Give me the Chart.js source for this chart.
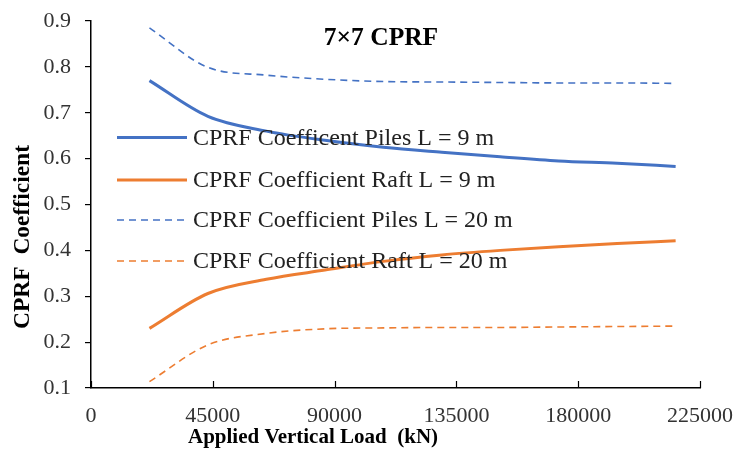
<!DOCTYPE html>
<html>
<head>
<meta charset="utf-8">
<script src="https://cdn.jsdelivr.net/npm/chart.js@4"></script>
<style>
  html, body { margin: 0; padding: 0; background: #fff; }
  #wrap { width: 740px; height: 452px; position: relative; }
</style>
</head>
<body>
<div id="wrap"><canvas id="cprf"></canvas></div>
<script>
// loads (kN) and CPRF coefficients
const loads = [21600, 43200, 64800, 86400, 108000, 129600, 151200, 172800, 194400, 216000];
const pilesL9 = [0.770, 0.692, 0.660, 0.640, 0.625, 0.614, 0.604, 0.595, 0.590, 0.583];
const raftL9 = [0.230, 0.306, 0.337, 0.357, 0.376, 0.390, 0.400, 0.408, 0.415, 0.421];
const pilesL20 = [0.885, 0.799, 0.782, 0.773, 0.768, 0.767, 0.766, 0.765, 0.765, 0.764];
const raftL20 = [0.114, 0.194, 0.219, 0.229, 0.231, 0.232, 0.232, 0.233, 0.234, 0.235];
const seriesNames = [
  "CPRF Coefficent Piles L = 9 m",
  "CPRF Coefficient Raft L = 9 m",
  "CPRF Coefficient Piles L = 20 m",
  "CPRF Coefficient Raft L = 20 m",
];
const xTicks = [0, 45000, 90000, 135000, 180000, 225000];
const yTicks = [0.1, 0.2, 0.3, 0.4, 0.5, 0.6, 0.7, 0.8, 0.9];

const BLUE = "#4472C4";
const ORANGE = "#ED7D31";
const SERIF = "'Liberation Serif', 'Times New Roman', serif";

function pts(ys) {
  return loads.map((x, i) => ({ x, y: ys[i] }));
}

function ds(label, ys, color, dashed) {
  return {
    label,
    data: pts(ys),
    borderColor: color,
    backgroundColor: color,
    borderWidth: dashed ? 1.6 : 3,
    borderDash: dashed ? [7, 5] : [],
    pointRadius: 0,
    fill: false,
    cubicInterpolationMode: "monotone",
  };
}

// x ticks in this chart point up into the plot
const innerTicks = {
  id: "innerTicks",
  afterDraw(chart) {
    const { ctx, scales, chartArea } = chart;
    ctx.save();
    ctx.strokeStyle = "#000";
    ctx.lineWidth = 1.2;
    xTicks.forEach(v => {
      const px = Math.round(scales.x.getPixelForValue(v)) + 0.5;
      ctx.beginPath();
      ctx.moveTo(px, chartArea.bottom);
      ctx.lineTo(px, chartArea.bottom - 7);
      ctx.stroke();
    });
    ctx.restore();
  }
};

const textBits = {
  id: "textBits",
  afterDraw(chart) {
    const { ctx } = chart;
    ctx.save();
    ctx.fillStyle = "#000";
    // chart title inside the plot
    ctx.font = "bold 25.5px " + SERIF;
    ctx.textAlign = "center";
    ctx.textBaseline = "middle";
    ctx.fillText("7×7 CPRF", 381, 38);
    // x axis title
    ctx.font = "bold 21px " + SERIF;
    ctx.fillText("Applied Vertical Load  (kN)", 313, 438);
    // y axis title
    ctx.font = "bold 23.5px " + SERIF;
    ctx.translate(23, 237);
    ctx.rotate(-Math.PI / 2);
    ctx.fillText("CPRF  Coefficient", 0, 0);
    ctx.restore();
  }
};

const innerLegend = {
  id: "innerLegend",
  afterDatasetsDraw(chart) {
    const { ctx } = chart;
    const rows = [137.5, 180, 220, 261];
    ctx.save();
    ctx.font = "24px " + SERIF;
    ctx.textAlign = "left";
    ctx.textBaseline = "middle";
    chart.data.datasets.forEach((d, i) => {
      const y = rows[i];
      ctx.strokeStyle = d.borderColor;
      ctx.lineWidth = d.borderWidth;
      ctx.setLineDash(d.borderDash);
      ctx.beginPath();
      ctx.moveTo(117, y);
      ctx.lineTo(187, y);
      ctx.stroke();
      ctx.setLineDash([]);
      ctx.fillStyle = "#222";
      ctx.fillText(d.label, 193, y + 1);
    });
    ctx.restore();
  }
};

new Chart(document.getElementById("cprf"), {
  type: "line",
  data: {
    datasets: [
      ds(seriesNames[0], pilesL9, BLUE, false),
      ds(seriesNames[1], raftL9, ORANGE, false),
      ds(seriesNames[2], pilesL20, BLUE, true),
      ds(seriesNames[3], raftL20, ORANGE, true),
    ]
  },
  options: {
    responsive: true,
    maintainAspectRatio: false,
    animation: false,
    layout: { padding: { top: 21, right: 40, left: 0, bottom: 0 } },
    plugins: {
      legend: { display: false },
      tooltip: { enabled: false },
    },
    scales: {
      x: {
        type: "linear",
        min: xTicks[0],
        max: xTicks[xTicks.length - 1],
        afterBuildTicks: s => { s.ticks = xTicks.map(v => ({ value: v })); },
        afterFit: s => { s.height = 64; s.paddingLeft = 0; s.paddingRight = 0; },
        ticks: {
          callback: v => String(v),
          font: { family: SERIF, size: 22 },
          color: "#333",
          padding: 15,
          maxRotation: 0,
        },
        grid: { display: false, drawTicks: false },
        border: { display: true, color: "#000", width: 1.5 },
      },
      y: {
        min: yTicks[0],
        max: yTicks[yTicks.length - 1],
        afterBuildTicks: s => { s.ticks = yTicks.map(v => ({ value: v })); },
        afterFit: s => { s.width = 91; s.paddingTop = 0; s.paddingBottom = 0; },
        ticks: {
          callback: v => v.toFixed(1),
          font: { family: SERIF, size: 22 },
          color: "#333",
          padding: 14,
        },
        grid: { drawOnChartArea: false, drawTicks: true, tickLength: 6, color: "#000", lineWidth: 1.2 },
        border: { display: true, color: "#000", width: 1.5 },
      }
    }
  },
  plugins: [innerTicks, innerLegend, textBits],
});
</script>
</body>
</html>
